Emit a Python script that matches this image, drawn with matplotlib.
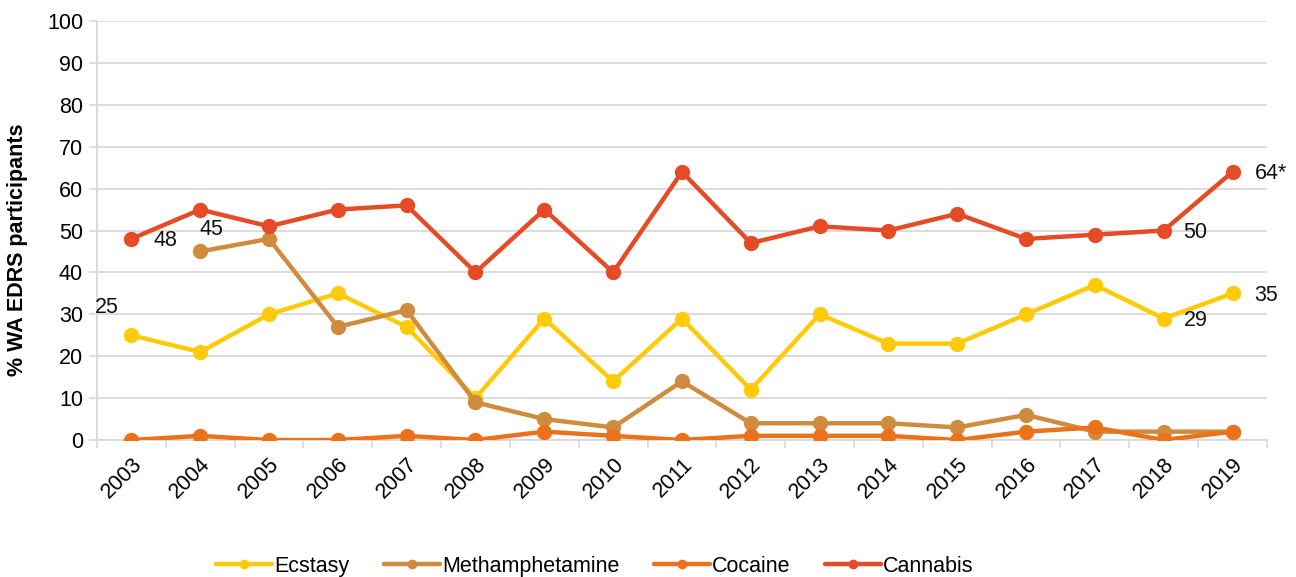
import numpy as np
import matplotlib.pyplot as plt
from matplotlib.ticker import FixedLocator

plt.rcParams['font.family'] = ['Liberation Sans', 'DejaVu Sans']

# survey years and drug series (% of WA EDRS participants)
years = [str(y) for y in range(2003, 2020)]
ecstasy = [25, 21, 30, 35, 27, 10, 29, 14, 29, 12, 30, 23, 23, 30, 37, 29, 35]
meth = [np.nan, 45, 48, 27, 31, 9, 5, 3, 14, 4, 4, 4, 3, 6, 2, 2, 2]
cocaine = [0, 1, 0, 0, 1, 0, 2, 1, 0, 1, 1, 1, 0, 2, 3, 0, 2]
cannabis = [48, 55, 51, 55, 56, 40, 55, 40, 64, 47, 51, 50, 54, 48, 49, 50, 64]

series = [
    ('Ecstasy', ecstasy, '#FFCA08'),
    ('Methamphetamine', meth, '#CF8C3E'),
    ('Cocaine', cocaine, '#EC711B'),
    ('Cannabis', cannabis, '#E44B26'),
]

FS = 15.5

fig = plt.figure(figsize=(12.96, 5.77), dpi=100)
ax = fig.add_axes([0.0748, 0.2374, 0.9028, 0.7262])

x = np.arange(len(years))
for name, vals, col in series:
    ax.plot(x, vals, color=col, lw=3.2, marker='o', ms=10, label=name,
            solid_capstyle='round', zorder=3)

# value labels
lab = dict(fontsize=FS, color='#111111', zorder=5, ha='center', va='center')
ax.text(-0.35, ecstasy[0] + 6.7, '25', **lab)
ax.text(0.5, cannabis[0] - 0.3, '48', **lab)
ax.text(1.16, meth[1] + 5.3, '45', **lab)
ax.text(15.46, cannabis[15] - 0.4, '50', **lab)
ax.text(15.46, ecstasy[15] - 0.4, '29', **lab)
ax.text(16.32, cannabis[16] - 0.3, '64*', **dict(lab, ha='left'))
ax.text(16.32, ecstasy[16] - 0.4, '35', **dict(lab, ha='left'))

ax.set_xlim(-0.5, 16.5)
ax.set_ylim(0, 100)
ax.set_yticks(range(0, 101, 10))
ax.set_xticks(x)
ax.set_xticklabels(years, rotation=45, ha='right', rotation_mode='anchor')
ax.xaxis.set_minor_locator(FixedLocator(np.arange(-0.5, 17, 1)))
ax.tick_params(axis='x', which='major', length=0, pad=10, labelsize=FS)
ax.tick_params(axis='x', which='minor', length=6, color='#D9D9D9', width=1.2)
ax.tick_params(axis='y', length=6, color='#D9D9D9', width=1.2, labelsize=FS, pad=4)

ax.grid(axis='y', color='#D9D9D9', lw=1.3, zorder=0)
ax.set_axisbelow(True)
for s in ['top', 'right']:
    ax.spines[s].set_visible(False)
for s in ['left', 'bottom']:
    ax.spines[s].set_color('#D9D9D9')
    ax.spines[s].set_linewidth(1.3)

ax.set_ylabel('% WA EDRS participants', fontsize=FS, fontweight='bold')
ax.yaxis.set_label_coords(-0.059, 0.453)

fig.legend(loc='lower center', bbox_to_anchor=(0.459, -0.033), ncol=4, frameon=False,
           fontsize=FS, handlelength=2.6, handletextpad=0.1, columnspacing=1.6,
           markerscale=0.6)

fig.savefig('out.png', dpi=100)
